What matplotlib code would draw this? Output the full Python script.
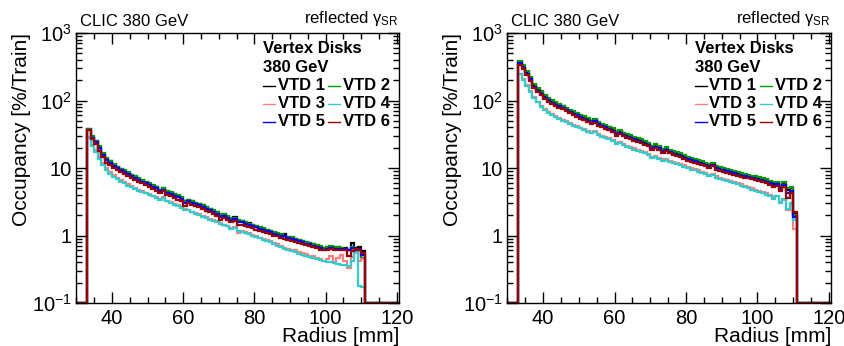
import numpy as np
import matplotlib
matplotlib.use("Agg")
import matplotlib.pyplot as plt
from matplotlib.lines import Line2D
from matplotlib.ticker import FixedLocator, FixedFormatter, MultipleLocator, LogLocator, NullFormatter

plt.rcParams['font.family'] = ['Liberation Sans', 'DejaVu Sans']
plt.rcParams['mathtext.fontset'] = 'custom'
plt.rcParams['mathtext.rm'] = 'Liberation Sans'
plt.rcParams['mathtext.it'] = 'Liberation Sans:italic'
plt.rcParams['mathtext.bf'] = 'Liberation Sans:bold'

# bin edges of the occupancy histograms (1 mm bins), histogram range 30-121 mm
radius_edges = np.arange(30, 122)
first_bin = 33   # first filled bin (mm)

series_names = ['VTD 1', 'VTD 2', 'VTD 3', 'VTD 4', 'VTD 5', 'VTD 6']
series_colors = ['#000000', '#009900', '#ff8080', '#33cccc', '#0000ff', '#990000']

# left panel, filled bins 33..110 mm  [%/Train]
left_vtd1 = [38, 29, 25, 20, 16, 13.5, 12.5, 11.2, 10.4, 9.6,
             9.1, 8.4, 8.0, 7.4, 6.9, 6.7, 6.2, 5.8, 5.5, 5.2,
             4.7, 5.0, 4.5, 4.3, 4.1, 3.9, 3.6, 3.1, 3.4, 3.2,
             3.0, 2.9, 2.8, 2.6, 2.45, 2.3, 2.25, 1.95, 2.05, 1.9,
             1.75, 1.85, 1.65, 1.62, 1.55, 1.52, 1.42, 1.36, 1.3, 1.26,
             1.2, 1.16, 1.1, 1.06, 1.02, 1.05, 0.95, 0.93, 0.88, 0.86,
             0.82, 0.8, 0.77, 0.74, 0.71, 0.68, 0.64, 0.67, 0.68, 0.66,
             0.68, 0.65, 0.66, 0.62, 0.78, 0.66, 0.68, 0.58]
left_vtd2 = [38, 30, 25, 21, 16.5, 14, 12.8, 11.4, 10.5, 9.8,
             9.2, 8.6, 8.0, 7.5, 7.0, 6.6, 6.3, 5.9, 5.6, 5.3,
             4.8, 5.1, 4.6, 4.4, 4.1, 4.0, 3.7, 3.2, 3.4, 3.2,
             3.0, 2.95, 2.8, 2.65, 2.5, 2.35, 2.2, 2.0, 2.05, 1.95,
             1.8, 1.82, 1.68, 1.65, 1.58, 1.5, 1.44, 1.38, 1.32, 1.28,
             1.22, 1.18, 1.12, 1.08, 1.04, 1.0, 0.96, 0.94, 0.9, 0.87,
             0.84, 0.81, 0.78, 0.75, 0.72, 0.69, 0.66, 0.68, 0.70, 0.67,
             0.68, 0.66, 0.64, 0.61, 0.68, 0.64, 0.62, 0.46]
left_vtd3 = [29, 22, 18.5, 14.5, 12, 10, 8.7, 7.8, 7.1, 6.6,
             6.2, 5.8, 5.4, 5.1, 4.8, 4.5, 4.3, 4.1, 3.9, 3.7,
             3.5, 3.7, 3.3, 3.1, 2.95, 2.8, 2.65, 2.45, 2.4, 2.25,
             2.15, 2.05, 1.95, 1.85, 1.78, 1.68, 1.62, 1.55, 1.45, 1.4,
             1.3, 1.35, 1.1, 1.15, 1.12, 1.08, 1.02, 0.98, 0.93, 0.9,
             0.86, 0.82, 0.78, 0.74, 0.7, 0.66, 0.63, 0.62, 0.6, 0.57,
             0.55, 0.53, 0.5, 0.49, 0.47, 0.45, 0.42, 0.45, 0.5, 0.4,
             0.47, 0.52, 0.42, 0.33, 0.48, 0.55, 0.42, 0.45]
left_vtd4 = [28, 21, 17, 13.5, 11, 9.3, 8.2, 7.4, 6.8, 6.3,
             5.9, 5.5, 5.2, 4.9, 4.6, 4.4, 4.2, 4.0, 3.8, 3.6,
             3.4, 3.6, 3.2, 3.0, 2.85, 2.7, 2.55, 2.35, 2.35, 2.2,
             2.1, 2.0, 1.9, 1.8, 1.72, 1.62, 1.58, 1.5, 1.42, 1.36,
             1.26, 1.3, 1.15, 1.12, 1.08, 1.04, 1.0, 0.96, 0.91, 0.87,
             0.83, 0.79, 0.75, 0.71, 0.67, 0.64, 0.61, 0.59, 0.57, 0.54,
             0.52, 0.5, 0.48, 0.46, 0.45, 0.43, 0.42, 0.41, 0.40, 0.39,
             0.38, 0.37, 0.36, 0.35, 0.42, 0.58, 0.18, 0.17]
left_vtd5 = [37, 28, 24, 19.5, 15.5, 13, 12, 10.8, 10, 9.3,
             8.7, 8.1, 7.6, 7.1, 6.7, 6.3, 6.0, 5.6, 5.3, 5.0,
             4.5, 4.8, 4.3, 4.1, 3.9, 3.7, 3.45, 3.0, 3.25, 3.05,
             2.9, 2.8, 2.65, 2.5, 2.35, 2.2, 2.1, 1.88, 1.95, 1.82,
             1.68, 1.75, 1.58, 1.56, 1.5, 1.45, 1.38, 1.32, 1.26, 1.21,
             1.16, 1.12, 1.07, 1.03, 0.99, 0.97, 0.92, 0.89, 0.85, 0.82,
             0.79, 0.76, 0.74, 0.71, 0.68, 0.65, 0.62, 0.64, 0.65, 0.63,
             0.64, 0.63, 0.63, 0.6, 0.66, 0.62, 0.63, 0.52]
left_vtd6 = [37, 27, 23, 18, 14.5, 12, 11, 10, 9.3, 8.6,
             8.1, 7.6, 7.1, 6.7, 6.2, 5.9, 5.6, 5.2, 4.9, 4.6,
             4.2, 4.5, 4.0, 3.8, 3.6, 3.4, 3.2, 2.75, 3.0, 2.85,
             2.7, 2.6, 2.45, 2.3, 2.2, 2.05, 1.95, 1.72, 1.8, 1.7,
             1.58, 1.62, 1.45, 1.45, 1.4, 1.35, 1.28, 1.22, 1.17, 1.13,
             1.08, 1.05, 1.0, 0.97, 0.93, 0.9, 0.86, 0.84, 0.8, 0.78,
             0.75, 0.72, 0.7, 0.68, 0.65, 0.62, 0.6, 0.62, 0.63, 0.6,
             0.62, 0.6, 0.61, 0.5, 0.58, 0.64, 0.62, 0.55]

# right panel, filled bins 33..110 mm  [%/Train]
right_vtd1 = [370, 320, 265, 215, 168, 148, 133, 116, 106, 98,
              91, 86, 82, 76, 71, 67, 63, 59, 56, 53,
              49, 52, 47, 44, 42, 40, 37.5, 33, 35, 32.5,
              30.5, 29.5, 28, 26.5, 25.5, 24, 23, 20.5, 22, 20.5,
              18.5, 19.5, 18, 17, 16.5, 16, 15, 14.2, 13.6, 13.1,
              12.6, 12.1, 11.6, 11, 11.6, 10.4, 10, 9.7, 9.3, 9,
              8.7, 8.4, 8.1, 7.9, 7.7, 7.4, 7.2, 7.0, 6.7, 6.5,
              6.2, 5.8, 6.0, 5.2, 5.9, 4.8, 5.0, 2.1]
right_vtd2 = [385, 335, 275, 222, 175, 152, 137, 120, 109, 101,
              94, 89, 84, 78, 73, 69, 65, 61, 58, 54.5,
              50.5, 53.5, 48.5, 45.5, 43.5, 41, 38.5, 34.5, 36, 33.5,
              31.5, 30.5, 29, 27.5, 26.5, 24.8, 23.8, 21.5, 22.8, 21.2,
              19.2, 20.2, 18.6, 17.6, 17, 16.5, 15.5, 14.7, 14.1, 13.5,
              13, 12.5, 12, 11.4, 12, 10.8, 10.4, 10.1, 9.7, 9.4,
              9.1, 8.8, 8.5, 8.2, 8.0, 7.7, 7.5, 7.3, 7.0, 6.8,
              6.5, 6.1, 6.3, 5.5, 6.1, 5.0, 5.3, 2.0]
right_vtd3 = [250, 205, 168, 138, 114, 96, 83, 74, 68, 63,
              59, 55.5, 52, 49, 46, 43.5, 41.5, 39.5, 37.5, 35.5,
              33.5, 35.5, 31.5, 30, 28.5, 27.5, 26, 23.5, 24.5, 23,
              21.5, 20.5, 19.5, 18.6, 17.8, 17.1, 16.3, 14.8, 15.3, 14.3,
              13.5, 13.8, 12.8, 12.3, 11.8, 11.3, 10.9, 10.5, 9.9, 9.6,
              9.2, 8.8, 8.5, 7.9, 8.2, 7.5, 7.2, 6.9, 6.7, 6.4,
              6.1, 5.9, 5.7, 5.4, 5.2, 5.0, 4.8, 4.6, 4.4, 4.2,
              4.0, 3.7, 3.9, 3.1, 3.4, 2.4, 2.9, 1.25]
right_vtd4 = [245, 198, 162, 133, 110, 94, 81, 72, 66, 61,
              57, 54, 50.5, 47.5, 44.5, 42.5, 40.5, 38.5, 36.5, 34.5,
              32.5, 34.5, 30.5, 29, 27.5, 26.5, 25, 22.5, 23.5, 22,
              20.5, 19.5, 18.6, 17.8, 17.1, 16.4, 15.6, 14.2, 14.7, 13.7,
              12.9, 13.2, 12.3, 11.8, 11.3, 10.9, 10.4, 10.0, 9.5, 9.2,
              8.8, 8.4, 8.1, 7.6, 7.9, 7.2, 6.9, 6.6, 6.4, 6.1,
              5.9, 5.7, 5.4, 5.2, 5.0, 4.8, 4.6, 4.4, 4.2, 4.0,
              3.8, 3.5, 3.8, 3.0, 3.5, 2.5, 3.0, 1.7]
right_vtd5 = [355, 305, 250, 205, 160, 140, 126, 110, 101, 93,
              87, 82, 78, 72, 67.5, 63.5, 60, 56, 53, 50.5,
              46.5, 49.5, 44.5, 42, 40, 38, 35.5, 31.5, 33.5, 31,
              29, 28, 26.5, 25, 24, 22.8, 21.8, 19.5, 20.8, 19.5,
              17.6, 18.5, 17.1, 16.2, 15.7, 15.2, 14.3, 13.5, 13, 12.5,
              12, 11.5, 11.1, 10.5, 11, 9.9, 9.5, 9.2, 8.9, 8.6,
              8.3, 8.0, 7.7, 7.5, 7.3, 7.1, 6.9, 6.7, 6.4, 6.2,
              5.9, 5.5, 5.7, 4.9, 5.6, 4.3, 4.6, 1.9]
right_vtd6 = [335, 295, 240, 195, 152, 134, 120, 105, 96, 89,
              83, 78, 74, 69, 64.5, 61, 57, 53.5, 51, 48,
              44.5, 47, 42.5, 40, 38, 36.5, 34, 30, 32, 29.5,
              27.8, 26.8, 25.5, 24, 23.2, 21.8, 20.9, 18.6, 20, 18.6,
              16.8, 17.7, 16.4, 15.5, 15, 14.5, 13.7, 12.9, 12.4, 11.9,
              11.5, 11, 10.6, 10, 10.6, 9.5, 9.1, 8.8, 8.5, 8.2,
              7.9, 7.7, 7.4, 7.2, 7.0, 6.8, 6.6, 6.4, 6.1, 5.9,
              5.6, 5.2, 5.5, 4.6, 5.3, 3.6, 4.2, 2.2]

left_series = [left_vtd1, left_vtd2, left_vtd3, left_vtd4, left_vtd5, left_vtd6]
right_series = [right_vtd1, right_vtd2, right_vtd3, right_vtd4, right_vtd5, right_vtd6]

ymin, ymax = 0.1, 1000
xmin, xmax = 29.9, 120.6


def full_hist(vals):
    # put the filled bins into the whole histogram range, empty bins are 0
    h = np.zeros(len(radius_edges) - 1)
    i0 = first_bin - radius_edges[0]
    h[i0:i0 + len(vals)] = vals
    # ROOT draws empty bins on the lower frame edge
    return np.clip(h, ymin, None)


def draw_panel(ax, series):
    for vals, col in zip(series, series_colors):
        ax.stairs(full_hist(vals), radius_edges, color=col, lw=1.6, baseline=None)
    ax.set_yscale('log')
    ax.set_xlim(xmin, xmax)
    ax.set_ylim(ymin, ymax)

    ax.xaxis.set_major_locator(MultipleLocator(20))
    ax.xaxis.set_minor_locator(MultipleLocator(5))
    ax.yaxis.set_major_locator(FixedLocator([0.1, 1, 10, 100, 1000]))
    ax.yaxis.set_major_formatter(FixedFormatter([r'$10^{-1}$', '1', '10', r'$10^{2}$', r'$10^{3}$']))
    ax.yaxis.set_minor_locator(LogLocator(base=10, subs=np.arange(2, 10), numticks=20))
    ax.yaxis.set_minor_formatter(NullFormatter())
    ax.tick_params(which='both', direction='in', top=True, right=True, labelsize=14.5, width=1)
    ax.tick_params(which='major', length=8)
    ax.tick_params(which='minor', length=4)
    ax.tick_params(axis='x', pad=4)
    ax.tick_params(axis='y', pad=3)
    for s in ax.spines.values():
        s.set_linewidth(1)

    ax.set_xlabel('Radius [mm]', fontsize=15, loc='right')
    ax.xaxis.set_label_coords(1.0, -0.088)
    ax.set_ylabel('Occupancy [%/Train]', fontsize=15, loc='top')
    ax.yaxis.set_label_coords(-0.14, 1.0)

    ax.text(0.012, 1.026, 'CLIC 380 GeV', transform=ax.transAxes, fontsize=12,
            ha='left', va='baseline')
    ax.text(1.0, 1.037, r'reflected $\mathrm{\gamma_{SR}}$', transform=ax.transAxes,
            fontsize=12, ha='right', va='baseline')

    # legend block (ROOT style)
    ax.text(0.579, 0.926, 'Vertex Disks', transform=ax.transAxes, fontsize=12,
            fontweight='bold', ha='left', va='baseline')
    ax.text(0.579, 0.856, '380 GeV', transform=ax.transAxes, fontsize=12,
            fontweight='bold', ha='left', va='baseline')
    row_y = [0.789, 0.722, 0.656]
    col_x = [0.579, 0.780]
    for k, (name, col) in enumerate(zip(series_names, series_colors)):
        r, c = k // 2, k % 2
        x0 = col_x[c]
        yb = row_y[r]
        ax.add_line(Line2D([x0, x0 + 0.037], [yb + 0.016, yb + 0.016], color=col,
                           lw=1.0, transform=ax.transAxes, clip_on=False))
        ax.text(x0 + 0.046, yb, name, transform=ax.transAxes, fontsize=12,
                fontweight='bold', ha='left', va='baseline')


fig = plt.figure(figsize=(8.44, 3.46), dpi=100)
ax1 = fig.add_axes([76 / 844, 43 / 346, 323 / 844, 270 / 346])
ax2 = fig.add_axes([507 / 844, 43 / 346, 324 / 844, 270 / 346])
draw_panel(ax1, left_series)
draw_panel(ax2, right_series)

fig.savefig('out.png', dpi=100)
